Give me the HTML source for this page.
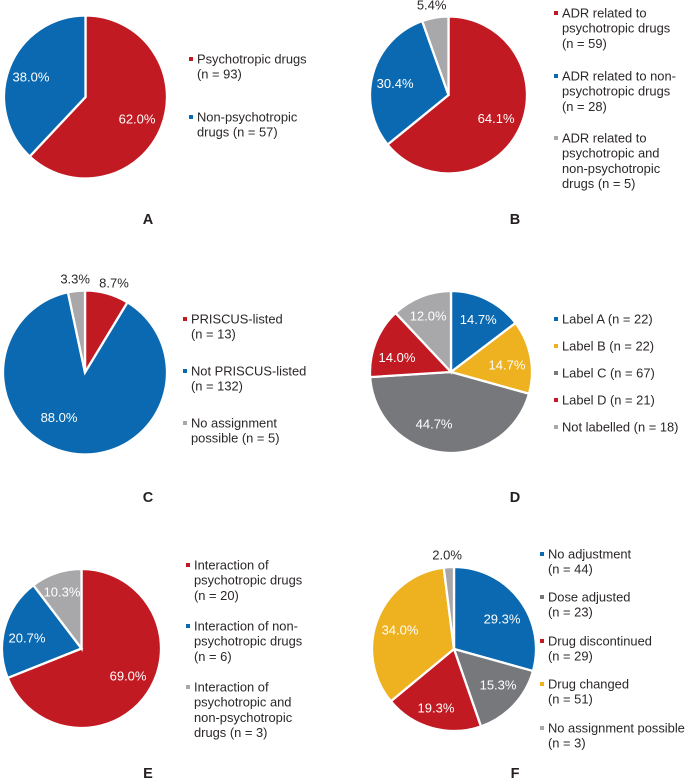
<!DOCTYPE html>
<html lang="en">
<head>
<meta charset="utf-8">
<title>Drug-related pie charts A to F</title>
<style>
  html, body { margin: 0; padding: 0; background: #fff; }
  body { width: 685px; height: 778px; overflow: hidden; }
  svg { display: block; font-family: "Liberation Sans", Arial, sans-serif; }
  .legend-text { font-size: 12.9px; fill: #2b2728; }
  .value-label { font-size: 13px; text-anchor: middle; }
  .panel-letter { font-size: 14.5px; font-weight: bold; fill: #231f20; text-anchor: middle; }
  .slice { stroke: #fff; stroke-width: 2.3; stroke-linejoin: miter; }
</style>
</head>
<body>
<svg id="figure" xmlns="http://www.w3.org/2000/svg" width="685" height="778" viewBox="0 0 685 778">
  <g id="panel-a"></g>
  <g id="panel-b"></g>
  <g id="panel-c"></g>
  <g id="panel-d"></g>
  <g id="panel-e"></g>
  <g id="panel-f"></g>
</svg>
<script>
// ---- Data: counts for each panel, percentages are derived from them ----
const panelACounts = [93, 57];
const panelALegend = [["Psychotropic drugs", "(n = {n})"], ["Non-psychotropic", "drugs (n = {n})"]];

const panelBCounts = [59, 28, 5];
const panelBLegend = [
  ["ADR related to", "psychotropic drugs", "(n = {n})"],
  ["ADR related to non-", "psychotropic drugs", "(n = {n})"],
  ["ADR related to", "psychotropic and", "non-psychotropic", "drugs (n = {n})"]
];

const panelCCounts = [13, 132, 5];
const panelCLegend = [["PRISCUS-listed", "(n = {n})"], ["Not PRISCUS-listed", "(n = {n})"], ["No assignment", "possible (n = {n})"]];

const panelDCounts = [22, 22, 67, 21, 18];
const panelDLegend = [["Label A (n = {n})"], ["Label B (n = {n})"], ["Label C (n = {n})"], ["Label D (n = {n})"], ["Not labelled (n = {n})"]];

const panelECounts = [20, 6, 3];
const panelELegend = [
  ["Interaction of", "psychotropic drugs", "(n = {n})"],
  ["Interaction of non-", "psychotropic drugs", "(n = {n})"],
  ["Interaction of", "psychotropic and", "non-psychotropic", "drugs (n = {n})"]
];

const panelFCounts = [44, 23, 29, 51, 3];
const panelFLegend = [["No adjustment", "(n = {n})"], ["Dose adjusted", "(n = {n})"], ["Drug discontinued", "(n = {n})"], ["Drug changed", "(n = {n})"], ["No assignment possible", "(n = {n})"]];

// ---- Styling ----
const RED = "#c21a22", BLUE = "#0a69b0", GRAY = "#a8a7a9", YELLOW = "#eeb11f", DARK = "#77787c";
const INK = "#2b2728";
const LINE_GAP = 15.1;
const OUTSIDE_BELOW = 9;

// ---- Layout: geometry only, no values ----
const panels = [
  { id: "a", letter: "A", counts: panelACounts, legend: panelALegend, colors: [RED, BLUE],
    cx: 85.5, cy: 97, r: 81.5, textX: 197, markX: 189, starts: [59, 117], letterX: 148, letterY: 219,
    nudge: [[-1.5, 1], [-1.5, 1]] },
  { id: "b", letter: "B", counts: panelBCounts, legend: panelBLegend, colors: [RED, BLUE, GRAY],
    cx: 448.5, cy: 95, r: 78.5, textX: 562, markX: 554, starts: [13, 76, 138], letterX: 515, letterY: 219,
    nudge: [[-2, -0.5], [-0.5, 3], [-1.5, -1]] },
  { id: "c", letter: "C", counts: panelCCounts, legend: panelCLegend, colors: [RED, BLUE, GRAY],
    cx: 85, cy: 372.5, r: 82, textX: 191, markX: 183, starts: [319, 371, 423], letterX: 148, letterY: 497,
    nudge: [[3.6, 1.3], [-16.4, -12], [0, 0.3]] },
  { id: "d", letter: "D", counts: panelDCounts, legend: panelDLegend, colors: [BLUE, YELLOW, DARK, RED, GRAY],
    cx: 451, cy: 372, r: 81, textX: 562, markX: 554, starts: [319, 346, 373, 400, 427], letterX: 515, letterY: 497,
    nudge: [[2, -2], [0.3, 3.6], [-11, -4.4], [-1.3, 6], [-2, -3.3]] },
  { id: "e", letter: "E", counts: panelECounts, legend: panelELegend, colors: [RED, BLUE, GRAY],
    cx: 81.5, cy: 648.5, r: 79.5, textX: 194, markX: 186, starts: [565, 626, 687], letterX: 148, letterY: 773,
    nudge: [[0.5, -3.7], [-0.9, 4.4], [-1.7, -3.7]] },
  { id: "f", letter: "F", counts: panelFCounts, legend: panelFLegend, colors: [BLUE, DARK, RED, YELLOW, GRAY],
    cx: 454, cy: 649, r: 82, textX: 548, markX: 540, starts: [554, 597, 641, 684, 728], letterX: 515, letterY: 773,
    nudge: [[2.3, 4.7], [2.2, -3.3], [-2.6, 3.7], [-0.6, 2.2], [-1, 0.1]] }
];

const SVG_NS = "http://www.w3.org/2000/svg";

// ---- Axis functions: share of a total to angle, angle to point ----
function angleOf(fraction) {
  return fraction * 2 * Math.PI;
}
function pointAt(panel, angle, radius) {
  return [panel.cx + radius * Math.sin(angle), panel.cy - radius * Math.cos(angle)];
}

function drawPanel(panel) {
  const group = document.getElementById("panel-" + panel.id);
  const total = panel.counts.reduce(function (a, b) { return a + b; }, 0);
  let cumulative = 0;

  panel.counts.forEach(function (count, i) {
    const share = count / total;
    const a0 = angleOf(cumulative);
    const a1 = angleOf(cumulative + share);
    const mid = angleOf(cumulative + share / 2);
    cumulative += share;

    const p0 = pointAt(panel, a0, panel.r);
    const p1 = pointAt(panel, a1, panel.r);
    const large = share > 0.5 ? 1 : 0;

    const slice = document.createElementNS(SVG_NS, "path");
    slice.setAttribute("d", "M" + panel.cx + " " + panel.cy + "L" + p0[0] + " " + p0[1] +
      "A" + panel.r + " " + panel.r + " 0 " + large + " 1 " + p1[0] + " " + p1[1] + "Z");
    slice.setAttribute("fill", panel.colors[i]);
    slice.setAttribute("class", "slice");
    
    
    group.appendChild(slice);

    const pct = share * 100;
    const outside = pct < OUTSIDE_BELOW;
    const anchor = pointAt(panel, mid, panel.r * (outside ? 1.15 : 0.7));
    const label = document.createElementNS(SVG_NS, "text");
    label.setAttribute("x", anchor[0] + panel.nudge[i][0]);
    label.setAttribute("y", anchor[1] + panel.nudge[i][1]);
    label.setAttribute("dy", "0.36em");
    label.setAttribute("class", "value-label");
    label.setAttribute("fill", outside ? INK : "#fff");
    label.textContent = pct.toFixed(1) + "%";
    
    
    group.appendChild(label);

    const mark = document.createElementNS(SVG_NS, "rect");
    mark.setAttribute("x", panel.markX);
    mark.setAttribute("y", panel.starts[i] - 2);
    mark.setAttribute("width", 4);
    mark.setAttribute("height", 4);
    mark.setAttribute("fill", panel.colors[i]);
    
    
    group.appendChild(mark);

    panel.legend[i].forEach(function (line, j) {
      const text = document.createElementNS(SVG_NS, "text");
      text.setAttribute("x", panel.textX);
      text.setAttribute("y", panel.starts[i] + j * LINE_GAP);
      text.setAttribute("dy", "0.36em");
      text.setAttribute("class", "legend-text");
      text.textContent = line.replace("{n}", count);
      
      
      group.appendChild(text);
    });
  });

  const letter = document.createElementNS(SVG_NS, "text");
  letter.setAttribute("x", panel.letterX);
  letter.setAttribute("y", panel.letterY);
  letter.setAttribute("dy", "0.36em");
  letter.setAttribute("class", "panel-letter");
  letter.textContent = panel.letter;
  
  
  group.appendChild(letter);
}

panels.forEach(drawPanel);
</script>
</body>
</html>
